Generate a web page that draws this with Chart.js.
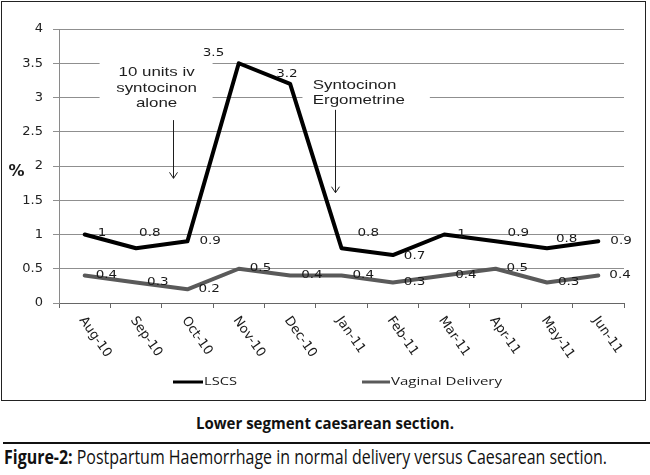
<!DOCTYPE html>
<html><head><meta charset="utf-8">
<script src="https://cdn.jsdelivr.net/npm/chart.js@4.4.0/dist/chart.umd.min.js"></script>
<style>
html,body{margin:0;padding:0;background:#fff;width:650px;height:475px;overflow:hidden;}
#frame{position:absolute;left:1px;top:1px;width:645px;height:400px;box-sizing:border-box;border:1px solid #222;}
#c{position:absolute;left:0;top:0;}
.cap{position:absolute;white-space:nowrap;transform-origin:0 0;font-family:"Open Sans";color:#111;line-height:1;}
#cap1{top:415px;font-weight:bold;font-size:16.5px;}
#rule{position:absolute;left:3px;top:442px;width:647px;height:2px;background:#111;}
#cap2{top:447px;font-size:19.5px;}
#cap2 b{font-weight:bold;}
</style></head>
<body>
<div id="frame"><canvas id="c" width="643" height="398"></canvas></div>
<div id="cap1" class="cap">Lower segment caesarean section.</div>
<div id="rule"></div>
<div id="cap2" class="cap"><b>Figure-2:</b> Postpartum Haemorrhage in normal delivery versus Caesarean section.</div>
<script>
// ---- data ----
const months = ['Aug-10','Sep-10','Oct-10','Nov-10','Dec-10','Jan-11','Feb-11','Mar-11','Apr-11','May-11','Jun-11'];
const lscs = [1, 0.8, 0.9, 3.5, 3.2, 0.8, 0.7, 1, 0.9, 0.8, 0.9];
const vaginal = [0.4, 0.3, 0.2, 0.5, 0.4, 0.4, 0.3, 0.4, 0.5, 0.3, 0.4];
const seriesNames = ['LSCS', 'Vaginal Delivery'];
const yLabel = '%';
const note1Lines = ['10 units iv', 'syntocinon', 'alone'];
const note2Lines = ['Syntocinon', 'Ergometrine'];

// ---- styling ----
const seriesColors = ['#000000', '#5a5a5a'];
// data-label nudges (px) per point
const lscsLabelShift = [[13,-1],[3,-15],[12,0],[-36,-10],[-14,-9],[16,-15],[11,1],[13,0],[12,-8],[9,-9],[12,0]];
const vagLabelShift = months.map(() => [11, 0]);

function stretchText(ctx, text, x, y, sx, align) {
  ctx.save();
  ctx.translate(x, y);
  ctx.scale(sx, 1);
  ctx.textAlign = align || 'left';
  ctx.fillText(text, 0, 0);
  ctx.restore();
}
function fitText(ctx, text, x, y, w) {
  const m = ctx.measureText(text).width;
  stretchText(ctx, text, x, y, w / m, 'left');
}

const deco = {
  id: 'deco',
  beforeDatasetsDraw(chart) {
    const {ctx, scales: {x, y}} = chart;
    ctx.save();
    ctx.fillStyle = '#fff';
    // white text boxes that hide gridlines under the notes
    const boxes = [[0.29, 2.49, 3.58, 2.77], [4.24, 6.72, 3.31, 2.85]];
    boxes.forEach(b => {
      const x0 = x.getPixelForValue(b[0]), x1 = x.getPixelForValue(b[1]);
      const y0 = y.getPixelForValue(b[2]), y1 = y.getPixelForValue(b[3]);
      ctx.fillRect(x0, y0, x1 - x0, y1 - y0);
    });
    ctx.fillStyle = '#1e1e1e';
    ctx.font = '13px "Liberation Sans"';
    ctx.textBaseline = 'middle';
    const c1 = x.getPixelForValue(1.4), t1 = y.getPixelForValue(3.36);
    note1Lines.forEach((s, i) => stretchText(ctx, s, c1, t1 + i * 15.5, 1.3, 'center'));
    const l2 = x.getPixelForValue(4.44), t2 = y.getPixelForValue(3.18);
    note2Lines.forEach((s, i) => stretchText(ctx, s, l2, t2 + i * 15, 1.3, 'left'));
    // arrows
    ctx.strokeStyle = '#1e1e1e';
    ctx.lineWidth = 1;
    [[1.71, 2.67, 1.82], [4.87, 2.82, 1.61]].forEach(a => {
      const ax = Math.round(x.getPixelForValue(a[0])) + 0.5;
      const ya = y.getPixelForValue(a[1]), yb = y.getPixelForValue(a[2]);
      ctx.beginPath();
      ctx.moveTo(ax, ya); ctx.lineTo(ax, yb);
      ctx.moveTo(ax - 4, yb - 6); ctx.lineTo(ax, yb); ctx.lineTo(ax + 4, yb - 6);
      ctx.stroke();
    });
    ctx.restore();
  },
  afterDatasetsDraw(chart) {
    const {ctx} = chart;
    ctx.save();
    ctx.fillStyle = '#1a1a1a';
    ctx.font = '10px "DejaVu Sans"';
    ctx.textBaseline = 'middle';
    const shifts = [lscsLabelShift, vagLabelShift];
    chart.data.datasets.forEach((ds, di) => {
      const meta = chart.getDatasetMeta(di);
      meta.data.forEach((pt, i) => {
        const s = shifts[di][i];
        stretchText(ctx, String(ds.data[i]), pt.x + s[0], pt.y + s[1], 1.35, 'left');
      });
    });
    ctx.restore();
  },
  afterDraw(chart) {
    const {ctx, chartArea, scales: {x}} = chart;
    ctx.save();
    // rotated category labels
    ctx.fillStyle = '#1a1a1a';
    ctx.font = '13px "DejaVu Sans"';
    ctx.textBaseline = 'middle';
    ctx.textAlign = 'left';
    months.forEach((m, i) => {
      const px = x.getPixelForValue(i);
      ctx.save();
      ctx.translate(px - 3, chartArea.bottom + 15);
      ctx.rotate(55 * Math.PI / 180);
      ctx.fillText(m, 0, 0);
      ctx.restore();
    });
    // axis title
    ctx.font = 'bold 16px "DejaVu Sans"';
    ctx.textAlign = 'center';
    ctx.fillText(yLabel, 14.5, 170);
    // legend
    const items = [[171, 30, 33], [360, 28, 111]];
    ctx.font = '11px "Open Sans"';
    ctx.textAlign = 'left';
    chart.data.datasets.forEach((ds, i) => {
      const it = items[i];
      ctx.strokeStyle = ds.borderColor;
      ctx.lineWidth = 3;
      ctx.beginPath();
      ctx.moveTo(it[0], 380); ctx.lineTo(it[0] + it[1], 380);
      ctx.stroke();
      ctx.fillStyle = '#1a1a1a';
      fitText(ctx, ds.label, it[0] + it[1] + 1, 380, it[2]);
    });
    ctx.restore();
  }
};

new Chart(document.getElementById('c'), {
  type: 'line',
  data: {
    labels: months,
    datasets: [
      {label: seriesNames[0], data: lscs, borderColor: seriesColors[0], backgroundColor: seriesColors[0]},
      {label: seriesNames[1], data: vaginal, borderColor: seriesColors[1], backgroundColor: seriesColors[1]}
    ]
  },
  options: {
    responsive: false,
    animation: false,
    devicePixelRatio: 1,
    layout: {padding: {left: 0, top: 27, right: 21, bottom: 77}},
    elements: {
      line: {borderWidth: 4, tension: 0, borderJoinStyle: 'round', borderCapStyle: 'round'},
      point: {radius: 0, hoverRadius: 0}
    },
    plugins: {legend: {display: false}, tooltip: {enabled: false}, title: {display: false}},
    scales: {
      x: {
        type: 'category',
        offset: true,
        grid: {offset: true, drawOnChartArea: false, drawTicks: true, tickLength: 5, color: '#666'},
        border: {color: '#666', width: 1},
        ticks: {display: false},
        afterFit(s) { s.height = 20; }
      },
      y: {
        min: 0, max: 4,
        ticks: {stepSize: 0.5, font: {family: 'DejaVu Sans', size: 13}, color: '#222', padding: 10,
                callback: v => String(Math.round(v * 10) / 10)},
        grid: {color: '#8f8f8f', tickLength: 6, drawTicks: true},
        border: {color: '#8a8a8a'},
        afterFit(s) { s.width = 57; }
      }
    }
  },
  plugins: [deco]
});

// fit captions to the reference widths
function fitCap(id, left, width) {
  const el = document.getElementById(id);
  const w = el.getBoundingClientRect().width;
  el.style.left = left + 'px';
  el.style.transform = 'scaleX(' + (width / w) + ')';
}
fitCap('cap1', 196, 258);
fitCap('cap2', 4, 603);
</script>
</body></html>
